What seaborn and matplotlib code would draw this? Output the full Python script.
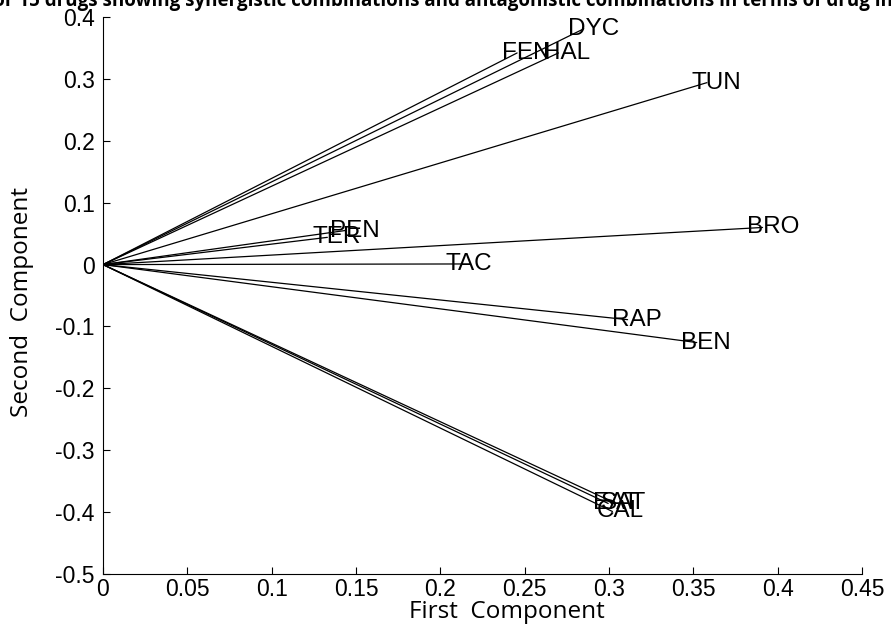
import matplotlib
matplotlib.use("Agg")
import matplotlib.pyplot as plt
import seaborn as sns
import pandas as pd

# ---- data ----
drugs = ["DYC", "FEN", "HAL", "TUN", "BRO", "PEN", "TER", "TAC",
         "RAP", "BEN", "EAT", "SAT", "CAL"]
pc1 = [0.285, 0.2455, 0.270, 0.358, 0.391, 0.1435, 0.133, 0.212,
       0.311, 0.352, 0.2995, 0.304, 0.302]
pc2 = [0.381, 0.342, 0.342, 0.294, 0.060, 0.055, 0.044, 0.001,
       -0.089, -0.126, -0.386, -0.386, -0.399]

x_ticks = [0, 0.05, 0.1, 0.15, 0.2, 0.25, 0.3, 0.35, 0.4, 0.45]
x_tick_labels = ["0", "0.05", "0.1", "0.15", "0.2", "0.25", "0.3", "0.35", "0.4", "0.45"]
y_ticks = [0.4, 0.3, 0.2, 0.1, 0, -0.1, -0.2, -0.3, -0.4, -0.5]
y_tick_labels = ["0.4", "0.3", "0.2", "0.1", "0", "-0.1", "-0.2", "-0.3", "-0.4", "-0.5"]

title_text = "for 15 drugs showing synergistic combinations and antagonistic combinations in terms of drug interactions"
x_label = "First  Component"
y_label = "Second  Component"

# ---- build table: origin -> endpoint for each drug ----
rows = []
for d, a, b in zip(drugs, pc1, pc2):
    rows.append({"drug": d, "x": 0.0, "y": 0.0, "order": 0})
    rows.append({"drug": d, "x": a, "y": b, "order": 1})
df = pd.DataFrame(rows)

sns.set_theme(style="white")
plt.rcParams["font.family"] = ["Liberation Sans", "DejaVu Sans"]

fig = plt.figure(figsize=(8.91, 6.32), dpi=100)
ax = fig.add_axes([0.1156, 0.0918, 0.9675 - 0.1156, 0.973 - 0.0918])

sns.lineplot(data=df, x="x", y="y", units="drug", estimator=None, sort=False,
             color="black", linewidth=0.9, ax=ax, legend=False)

for d, a, b in zip(drugs, pc1, pc2):
    ax.annotate(d, xy=(a, b), xytext=(-11, 0), textcoords="offset points",
                ha="left", va="center", fontsize=17.5, color="black",
                family=["Liberation Sans", "DejaVu Sans"])

ax.set_xlim(0, 0.45)
ax.set_ylim(-0.5, 0.4)
ax.set_xticks(x_ticks)
ax.set_xticklabels(x_tick_labels)
ax.set_yticks(y_ticks)
ax.set_yticklabels(y_tick_labels)
ax.tick_params(axis="both", direction="in", length=5, width=0.8, colors="black",
               labelsize=16.5, bottom=True, left=True)
ax.tick_params(axis="y", pad=6)
ax.tick_params(axis="x", pad=3)
for lab in ax.get_xticklabels() + ax.get_yticklabels():
    lab.set_family(["Liberation Sans", "DejaVu Sans"])

for s in ["top", "right"]:
    ax.spines[s].set_visible(False)
for s in ["left", "bottom"]:
    ax.spines[s].set_color("black")
    ax.spines[s].set_linewidth(0.8)

ax.set_xlabel("")
ax.set_ylabel("")
fig.text(507 / 891, 1 - 612 / 632, x_label, ha="center", va="center", fontsize=17.5,
         family=["Open Sans", "DejaVu Sans"], color="black")
fig.text(22 / 891, 1 - 302 / 632, y_label, ha="center", va="center", fontsize=17.5,
         rotation=90, family=["Open Sans", "DejaVu Sans"], color="black")

fig.text(-0.016, 0.991, title_text, ha="left", va="baseline", fontsize=13.5,
         fontweight="bold", family=["Open Sans", "DejaVu Sans"], color="black")

fig.savefig("out.png", dpi=100)
